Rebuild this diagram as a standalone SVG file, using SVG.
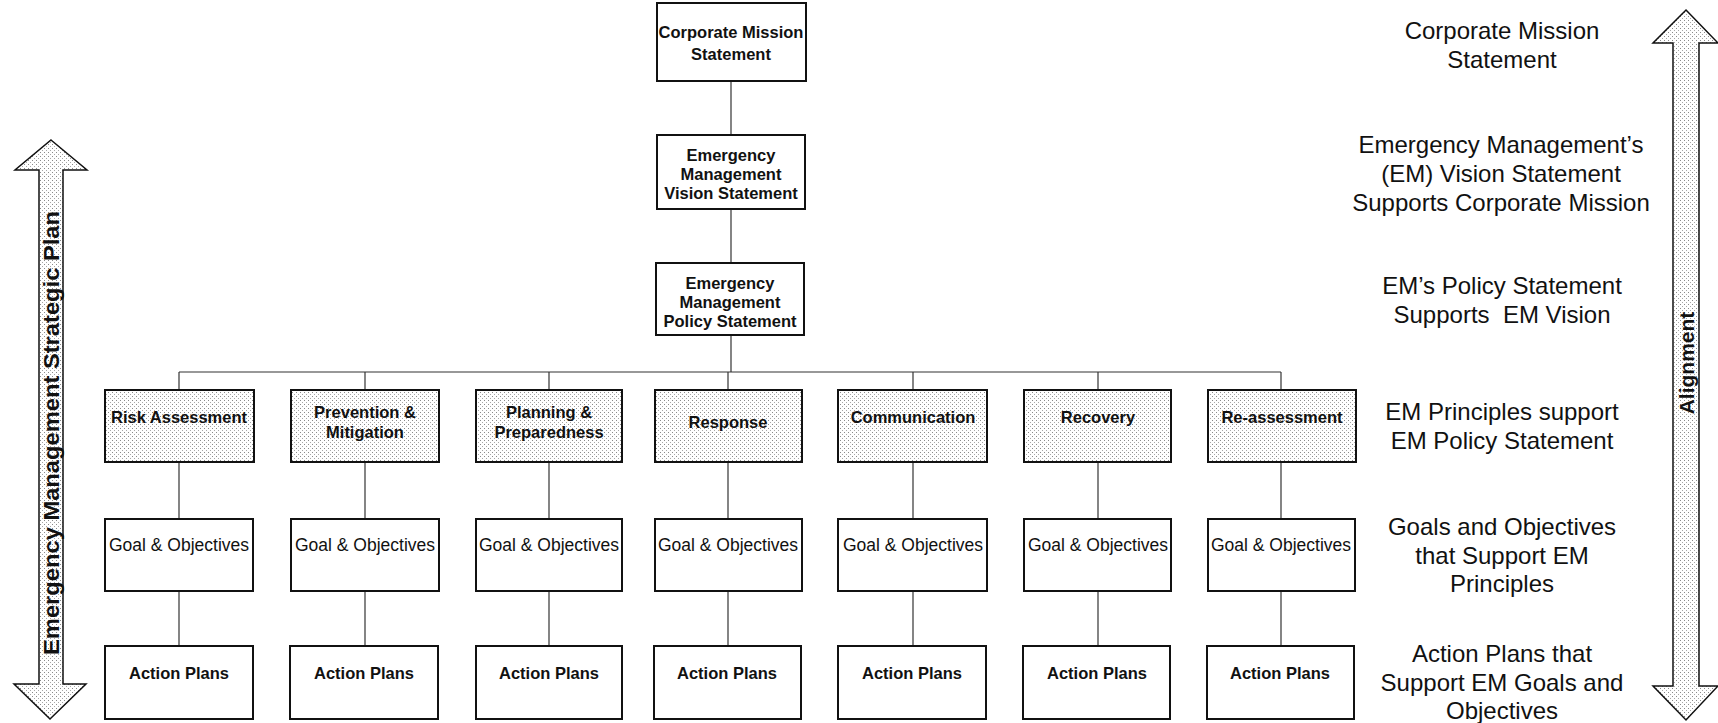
<svg xmlns="http://www.w3.org/2000/svg" width="1718" height="723" viewBox="0 0 1718 723">
<defs>
<pattern id="dots" width="4" height="4" patternUnits="userSpaceOnUse">
<rect width="4" height="4" fill="#ffffff"/>
<rect x="0" y="0" width="1" height="1" fill="#8a8a8a"/>
<rect x="2" y="2" width="1" height="1" fill="#a8a8a8"/>
</pattern>
<style>
.box{fill:#fff;stroke:#111;stroke-width:2}
.pbox{fill:url(#dots);stroke:#111;stroke-width:2}
.conn{stroke:#333;stroke-width:1.2;fill:none}
.bt{font-family:"Liberation Sans",Arial,sans-serif;font-size:16.5px;font-weight:bold;fill:#111;text-anchor:middle}
.rt{font-family:"Liberation Sans",Arial,sans-serif;font-size:17.5px;fill:#111;text-anchor:middle}
.lbl{font-family:"Liberation Sans",Arial,sans-serif;font-size:24px;fill:#111;text-anchor:middle}
.arrow{fill:url(#dots);stroke:#111;stroke-width:1.5}
.at{font-family:"Liberation Sans",Arial,sans-serif;font-weight:bold;fill:#111;text-anchor:middle}
</style>
</defs>
<rect width="1718" height="723" fill="#fff"/>

<g id="connectors">
<line class="conn" x1="731" y1="81" x2="731" y2="135"/>
<line class="conn" x1="731" y1="209" x2="731" y2="263"/>
<line class="conn" x1="731" y1="335" x2="731" y2="372"/>
<line class="conn" x1="179" y1="372" x2="1281" y2="372"/>
<line class="conn" x1="179" y1="372" x2="179" y2="390"/>
<line class="conn" x1="365" y1="372" x2="365" y2="390"/>
<line class="conn" x1="549" y1="372" x2="549" y2="390"/>
<line class="conn" x1="728" y1="372" x2="728" y2="390"/>
<line class="conn" x1="913" y1="372" x2="913" y2="390"/>
<line class="conn" x1="1098" y1="372" x2="1098" y2="390"/>
<line class="conn" x1="1281" y1="372" x2="1281" y2="390"/>
<line class="conn" x1="179" y1="462" x2="179" y2="519"/>
<line class="conn" x1="365" y1="462" x2="365" y2="519"/>
<line class="conn" x1="549" y1="462" x2="549" y2="519"/>
<line class="conn" x1="728" y1="462" x2="728" y2="519"/>
<line class="conn" x1="913" y1="462" x2="913" y2="519"/>
<line class="conn" x1="1098" y1="462" x2="1098" y2="519"/>
<line class="conn" x1="1281" y1="462" x2="1281" y2="519"/>
<line class="conn" x1="179" y1="591" x2="179" y2="646"/>
<line class="conn" x1="365" y1="591" x2="365" y2="646"/>
<line class="conn" x1="549" y1="591" x2="549" y2="646"/>
<line class="conn" x1="728" y1="591" x2="728" y2="646"/>
<line class="conn" x1="913" y1="591" x2="913" y2="646"/>
<line class="conn" x1="1098" y1="591" x2="1098" y2="646"/>
<line class="conn" x1="1281" y1="591" x2="1281" y2="646"/>
</g>

<g id="mission"><rect class="box" x="657" y="3" width="149" height="78"/>
<text class="bt" x="731" y="38">Corporate Mission</text><text class="bt" x="731" y="60">Statement</text></g>
<g id="vision"><rect class="box" x="657" y="135" width="148" height="74"/>
<text class="bt" x="731" y="161">Emergency</text><text class="bt" x="731" y="180">Management</text><text class="bt" x="731" y="199">Vision Statement</text></g>
<g id="policy"><rect class="box" x="656" y="263" width="148" height="72"/>
<text class="bt" x="730" y="289">Emergency</text><text class="bt" x="730" y="308">Management</text><text class="bt" x="730" y="327">Policy Statement</text></g>

<g id="p1"><rect class="pbox" x="105" y="390" width="149" height="72"/><text class="bt" x="179" y="423">Risk Assessment</text></g>
<g id="p2"><rect class="pbox" x="291" y="390" width="148" height="72"/><text class="bt" x="365" y="418">Prevention &amp;</text><text class="bt" x="365" y="438">Mitigation</text></g>
<g id="p3"><rect class="pbox" x="476" y="390" width="146" height="72"/><text class="bt" x="549" y="418">Planning &amp;</text><text class="bt" x="549" y="438">Preparedness</text></g>
<g id="p4"><rect class="pbox" x="655" y="390" width="147" height="72"/><text class="bt" x="728" y="428">Response</text></g>
<g id="p5"><rect class="pbox" x="838" y="390" width="149" height="72"/><text class="bt" x="913" y="423">Communication</text></g>
<g id="p6"><rect class="pbox" x="1024" y="390" width="147" height="72"/><text class="bt" x="1098" y="423">Recovery</text></g>
<g id="p7"><rect class="pbox" x="1208" y="390" width="148" height="72"/><text class="bt" x="1282" y="423">Re-assessment</text></g>

<g id="g1"><rect class="box" x="105" y="519" width="148" height="72"/><text class="rt" x="179" y="551">Goal &amp; Objectives</text></g>
<g id="g2"><rect class="box" x="291" y="519" width="148" height="72"/><text class="rt" x="365" y="551">Goal &amp; Objectives</text></g>
<g id="g3"><rect class="box" x="476" y="519" width="146" height="72"/><text class="rt" x="549" y="551">Goal &amp; Objectives</text></g>
<g id="g4"><rect class="box" x="655" y="519" width="147" height="72"/><text class="rt" x="728" y="551">Goal &amp; Objectives</text></g>
<g id="g5"><rect class="box" x="838" y="519" width="149" height="72"/><text class="rt" x="913" y="551">Goal &amp; Objectives</text></g>
<g id="g6"><rect class="box" x="1024" y="519" width="147" height="72"/><text class="rt" x="1098" y="551">Goal &amp; Objectives</text></g>
<g id="g7"><rect class="box" x="1208" y="519" width="147" height="72"/><text class="rt" x="1281" y="551">Goal &amp; Objectives</text></g>

<g id="a1"><rect class="box" x="105" y="646" width="148" height="73"/><text class="bt" x="179" y="679">Action Plans</text></g>
<g id="a2"><rect class="box" x="290" y="646" width="148" height="73"/><text class="bt" x="364" y="679">Action Plans</text></g>
<g id="a3"><rect class="box" x="476" y="646" width="146" height="73"/><text class="bt" x="549" y="679">Action Plans</text></g>
<g id="a4"><rect class="box" x="654" y="646" width="147" height="73"/><text class="bt" x="727" y="679">Action Plans</text></g>
<g id="a5"><rect class="box" x="838" y="646" width="148" height="73"/><text class="bt" x="912" y="679">Action Plans</text></g>
<g id="a6"><rect class="box" x="1023" y="646" width="147" height="73"/><text class="bt" x="1097" y="679">Action Plans</text></g>
<g id="a7"><rect class="box" x="1207" y="646" width="147" height="73"/><text class="bt" x="1280" y="679">Action Plans</text></g>

<g id="labels">
<text class="lbl" x="1502" y="39">Corporate Mission</text>
<text class="lbl" x="1502" y="68">Statement</text>
<text class="lbl" x="1501" y="153">Emergency Management’s</text>
<text class="lbl" x="1501" y="182">(EM) Vision Statement</text>
<text class="lbl" x="1501" y="211">Supports Corporate Mission</text>
<text class="lbl" x="1502" y="294">EM’s Policy Statement</text>
<text class="lbl" x="1502" y="323" xml:space="preserve">Supports  EM Vision</text>
<text class="lbl" x="1502" y="420">EM Principles support</text>
<text class="lbl" x="1502" y="449">EM Policy Statement</text>
<text class="lbl" x="1502" y="535">Goals and Objectives</text>
<text class="lbl" x="1502" y="564">that Support EM</text>
<text class="lbl" x="1502" y="592">Principles</text>
<text class="lbl" x="1502" y="662">Action Plans that</text>
<text class="lbl" x="1502" y="691">Support EM Goals and</text>
<text class="lbl" x="1502" y="719">Objectives</text>
</g>

<g id="strategic-plan-arrow">
<path class="arrow" d="M51,140 L87,170 L63,170 L63,684 L86,684 L50,719 L14,684 L39,684 L39,170 L15,170 Z"/>
<text class="at" transform="translate(59,433) rotate(-90)" font-size="22" textLength="444" lengthAdjust="spacingAndGlyphs">Emergency Management Strategic Plan</text>
</g>
<g id="alignment-arrow">
<path class="arrow" d="M1686,10 L1718,43 L1699,43 L1699,686 L1718,686 L1686,720 L1653,686 L1673,686 L1673,43 L1653,43 Z"/>
<text class="at" transform="translate(1694,363) rotate(-90)" font-size="21">Alignment</text>
</g>
</svg>
